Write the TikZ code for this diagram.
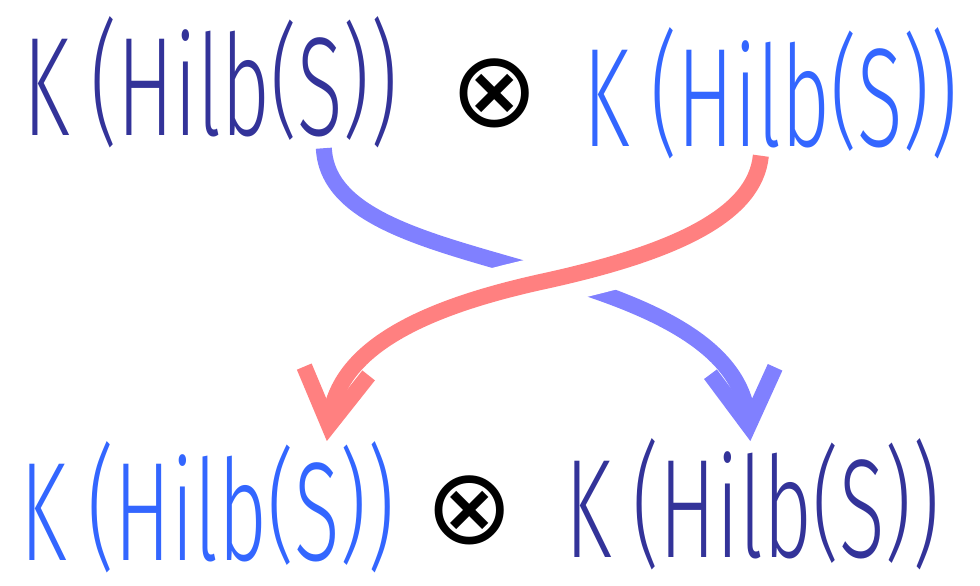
\documentclass[tikz,border=0pt]{standalone}
\usepackage{fontspec}
\usepackage{graphicx}
\newfontfamily\handfont{Fira Sans Light}
\newfontfamily\symfont{DejaVu Sans}
\usetikzlibrary{arrows.meta, positioning}
\definecolor{inkdark}{RGB}{51,51,153}
\definecolor{inklight}{RGB}{51,102,255}
\definecolor{strandblue}{RGB}{128,128,255}
\definecolor{strandred}{RGB}{255,128,128}
\newcommand{\bigp}[1]{\raisebox{0.04em}{\scalebox{1}[0.96]{#1}}}
\newcommand{\smallp}[1]{\raisebox{0.08em}{\scalebox{1}[0.88]{#1}}}
\newcommand{\khilb}{K\hspace{0.25em}\bigp{(}Hilb\smallp{(}S\smallp{)}\bigp{)}}

\begin{document}
\begin{tikzpicture}[
    hand/.style={anchor=base west, inner sep=0pt, xscale=0.6, font=\handfont\fontsize{80}{80}\selectfont},
    tensorsign/.style={inner sep=0pt, font=\symfont\fontsize{60}{60}\selectfont},
    strand/.style={line width=0.32cm},
    strandhead/.style={-{Straight Barb[length=1.1cm, width=1.3cm]}},
    halo/.style={white, line width=1cm, shorten <=2cm, shorten >=2cm},
]
\useasboundingbox (0,0) rectangle (19.6,-11.72);

% top row
\node[hand, inkdark] (tl) at (0.46,-2.7) {\khilb};
\node[tensorsign] (ot1) at (9.9,-1.86) {⊗};
\node[hand, inklight] (tr) at (11.66,-2.92) {\khilb};

% bottom row
\node[hand, inklight] (bl) at (0.40,-11.2) {\khilb};
\node[tensorsign] (ot2) at (9.4,-10.2) {⊗};
\node[hand, inkdark] (br) at (11.3,-11.15) {\khilb};

% crossing points
\coordinate (bx) at (11.3,-5.62);
\coordinate (rx) at (10.9,-5.62);

% the braiding
\draw[strand, strandblue, strandhead] ([shift={(2.27,0)}]tl.south)
    .. controls (6.55,-4.5) and (9.0,-4.9) .. (bx)
    .. controls (13.0,-6.15) and (14.8,-6.9) .. ([shift={(-0.04,-0.05)}]br.north);
\draw[halo] ([shift={(-0.19,0.07)}]tr.south)
    .. controls (15.1,-4.3) and (13.5,-5.05) .. (rx)
    .. controls (8.6,-6.12) and (6.8,-6.9) .. ([shift={(2.39,0)}]bl.north);
\draw[strand, strandred, strandhead] ([shift={(-0.19,0.07)}]tr.south)
    .. controls (15.1,-4.3) and (13.5,-5.05) .. (rx)
    .. controls (8.6,-6.12) and (6.8,-6.9) .. ([shift={(2.39,0)}]bl.north);

\end{tikzpicture}
\end{document}
